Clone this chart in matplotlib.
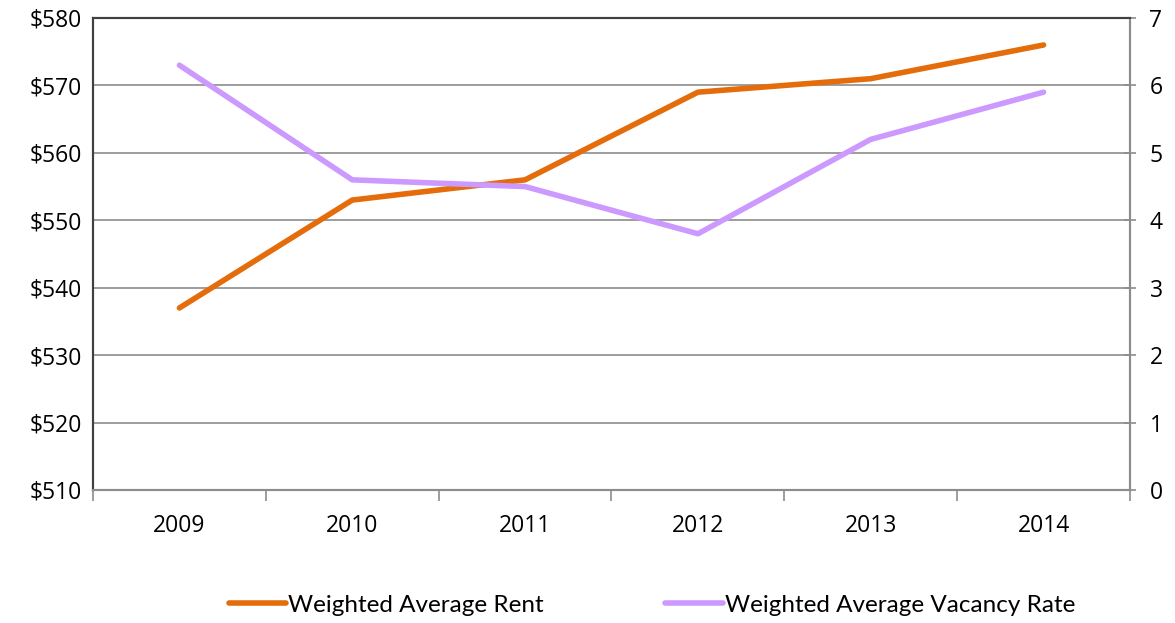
import matplotlib
matplotlib.use('Agg')
import matplotlib.pyplot as plt
from matplotlib.ticker import FixedLocator, FuncFormatter

# data
years = ['2009', '2010', '2011', '2012', '2013', '2014']
rent = [537, 553, 556, 569, 571, 576]
vacancy = [6.3, 4.6, 4.5, 3.8, 5.2, 5.9]

RENT_COLOR = '#E46C0A'
VAC_COLOR = '#CC99FF'
GRID = '#8C8C8C'
DARK = '#404040'

plt.rcParams['font.family'] = ['Open Sans', 'DejaVu Sans']

fig = plt.figure(figsize=(11.75, 6.23), dpi=100)
ax = fig.add_axes([93 / 1175, 1 - 490 / 623, (1130 - 93) / 1175, (490 - 18) / 623])
ax2 = ax.twinx()

x = list(range(len(years)))
l1, = ax.plot(x, rent, color=RENT_COLOR, lw=4, solid_capstyle='round',
              label='Weighted Average Rent', zorder=3)
l2, = ax2.plot(x, vacancy, color=VAC_COLOR, lw=4, solid_capstyle='round',
               label='Weighted Average Vacancy Rate', zorder=3)

ax.set_xlim(-0.5, len(years) - 0.5)
ax.set_ylim(510, 580)
ax.set_yticks(range(510, 581, 10))
ax.yaxis.set_major_formatter(FuncFormatter(lambda v, _: f'${v:.0f}'))
ax.grid(axis='y', color=GRID, lw=1.2)
ax.set_axisbelow(True)

ax2.set_ylim(0, 7)
ax2.set_yticks(range(0, 8))

# category axis: labels at centres, tick marks between categories
ax.set_xticks(x)
ax.set_xticklabels(years)
ax.xaxis.set_minor_locator(FixedLocator([i - 0.5 for i in range(len(years) + 1)]))
ax.tick_params(axis='x', which='major', length=0, pad=17, labelsize=16.5)
ax.tick_params(axis='x', which='minor', length=8, color=GRID, width=1.2, direction='out')
ax.tick_params(axis='y', length=0, pad=8, labelsize=16.5)
ax2.tick_params(axis='y', length=8, color=GRID, width=1.2, direction='inout', pad=10, labelsize=16.5)

for a in (ax, ax2):
    a.spines['top'].set_color(DARK)
    a.spines['left'].set_color(DARK)
    a.spines['bottom'].set_color(GRID)
    a.spines['right'].set_color(GRID)
    for s in a.spines.values():
        s.set_linewidth(1.5)

fig.legend(handles=[l1, l2], loc='center', bbox_to_anchor=(652 / 1175, 1 - 605 / 623),
           ncol=2, frameon=False, handlelength=2.35, handletextpad=0.1,
           columnspacing=5.0, prop={'family': 'Lato', 'size': 17.5})

fig.savefig('out.png', dpi=100)
